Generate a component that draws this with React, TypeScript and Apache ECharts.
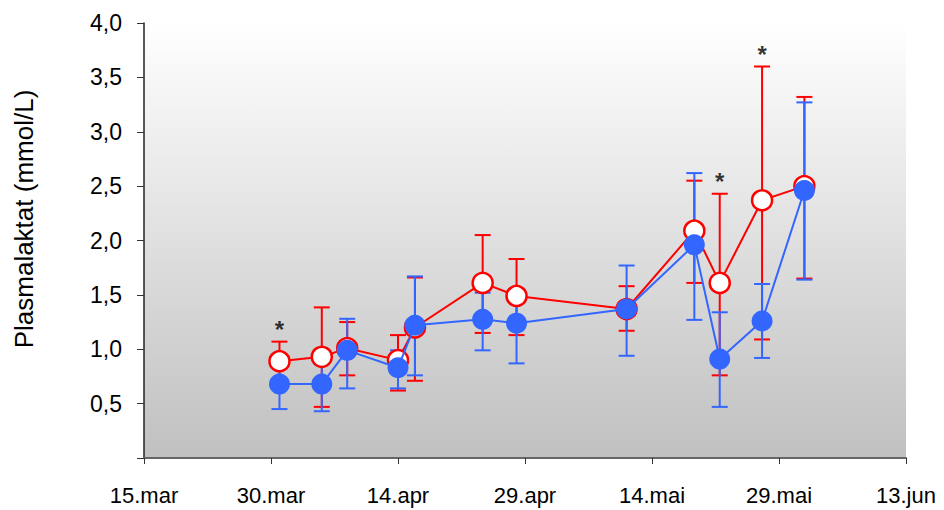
import React, { useEffect, useRef } from "react";
import * as echarts from "echarts";

const startDate = "2007-03-15";
const tickLabels = ["15.mar", "30.mar", "14.apr", "29.apr", "14.mai", "29.mai", "13.jun"];
const dates = [
  "2007-03-31", "2007-04-05", "2007-04-08", "2007-04-14", "2007-04-16", "2007-04-24",
  "2007-04-28", "2007-05-11", "2007-05-19", "2007-05-22", "2007-05-27", "2007-06-01",
];
const redMean = [0.89, 0.93, 1.01, 0.9, 1.2, 1.61, 1.49, 1.37, 2.09, 1.61, 2.37, 2.5];
const redUpper = [1.07, 1.385, 1.25, 1.13, 1.66, 2.05, 1.83, 1.58, 2.55, 2.43, 3.6, 3.32];
const redLower = [0.71, 0.47, 0.76, 0.62, 0.71, 1.15, 1.13, 1.17, 1.61, 0.76, 1.09, 1.65];
const blueMean = [0.68, 0.68, 0.99, 0.83, 1.22, 1.275, 1.24, 1.37, 1.96, 0.91, 1.26, 2.46];
const blueUpper = [0.91, 0.93, 1.28, 0.99, 1.67, 1.52, 1.55, 1.77, 2.62, 1.34, 1.6, 3.27];
const blueLower = [0.45, 0.43, 0.64, 0.64, 0.76, 0.99, 0.87, 0.94, 1.27, 0.47, 0.92, 1.64];
const significant = [true, false, false, false, false, false, false, false, false, true, true, false];

const RED = "#ff0000";
const BLUE = "#3366ff";

function dayOffset(d: string): number {
  return (Date.parse(d) - Date.parse(startDate)) / 86400000;
}

function errorSeries(color: string, lower: number[], upper: number[]) {
  const data = dates.map((d, i) => [dayOffset(d), lower[i], upper[i]]);
  return {
    type: "custom",
    data,
    silent: true,
    renderItem: (params: any, api: any) => {
      const x = api.value(0);
      const lo = api.coord([x, api.value(1)]);
      const hi = api.coord([x, api.value(2)]);
      const hw = 8;
      const style = { stroke: color, lineWidth: 2 };
      return {
        type: "group",
        children: [
          { type: "line", shape: { x1: lo[0], y1: lo[1], x2: hi[0], y2: hi[1] }, style },
          { type: "line", shape: { x1: lo[0] - hw, y1: lo[1], x2: lo[0] + hw, y2: lo[1] }, style },
          { type: "line", shape: { x1: hi[0] - hw, y1: hi[1], x2: hi[0] + hw, y2: hi[1] }, style },
        ],
      };
    },
  };
}

export default function App() {
  const ref = useRef<HTMLDivElement>(null);
  useEffect(() => {
    if (!ref.current) return;
    const chart = echarts.init(ref.current, null, { renderer: "svg" });
    const font = "Liberation Sans, Arial, sans-serif";
    chart.setOption({
      animation: false,
      backgroundColor: "#ffffff",
      grid: {
        left: 144,
        right: 38,
        top: 23,
        bottom: 52,
        show: true,
        borderWidth: 0,
        backgroundColor: new echarts.graphic.LinearGradient(0, 0, 0, 1, [
          { offset: 0, color: "#ffffff" },
          { offset: 1, color: "#c0c0c0" },
        ]),
      },
      graphic: [
        {
          type: "text",
          x: 24,
          y: 219,
          rotation: Math.PI / 2,
          style: {
            text: "Plasmalaktat (mmol/L)",
            fontFamily: font,
            fontSize: 26,
            fill: "#000",
            align: "center",
            verticalAlign: "middle",
          },
        },
      ],
      xAxis: {
        type: "value",
        min: 0,
        max: 90,
        interval: 15,
        splitLine: { show: false },
        axisLine: { lineStyle: { color: "#666", width: 2 } },
        axisTick: { show: true, inside: false, length: 6, lineStyle: { color: "#333", width: 1 } },
        axisLabel: {
          color: "#000",
          fontFamily: font,
          fontSize: 22,
          margin: 26,
          formatter: (v: number) => tickLabels[Math.round(v / 15)] ?? "",
        },
      },
      yAxis: {
        type: "value",
        min: 0,
        max: 4,
        interval: 0.5,
        splitLine: { show: false },
        axisLine: { show: true, lineStyle: { color: "#222", width: 1.5 } },
        axisTick: { show: true, inside: false, length: 7, lineStyle: { color: "#333", width: 1 } },
        axisLabel: {
          color: "#000",
          fontFamily: font,
          fontSize: 23,
          margin: 22,
          formatter: (v: number) => (v === 0 ? "" : v.toFixed(1).replace(".", ",")),
        },
      },
      series: [
        errorSeries(RED, redLower, redUpper),
        errorSeries(BLUE, blueLower, blueUpper),
        {
          type: "line",
          data: dates.map((d, i) => [dayOffset(d), redMean[i]]),
          symbol: "circle",
          symbolSize: 20,
          lineStyle: { color: RED, width: 2 },
          itemStyle: { color: "#ffffff", borderColor: RED, borderWidth: 2.5 },
          z: 3,
        },
        {
          type: "line",
          data: dates.map((d, i) => [dayOffset(d), blueMean[i]]),
          symbol: "circle",
          symbolSize: 21,
          lineStyle: { color: BLUE, width: 2 },
          itemStyle: { color: BLUE, borderWidth: 0 },
          z: 4,
        },
        {
          type: "scatter",
          data: dates
            .map((d, i) => (significant[i] ? [dayOffset(d), redUpper[i]] : null))
            .filter((p) => p !== null),
          symbolSize: 1,
          itemStyle: { color: "transparent" },
          label: {
            show: true,
            position: "top",
            distance: 0,
            formatter: "*",
            color: "#000",
            fontFamily: font,
            fontWeight: "bold",
            fontSize: 24,
          },
          z: 5,
        },
      ],
    });
    return () => chart.dispose();
  }, []);
  return (
    <div
      ref={ref}
      style={{ position: "fixed", left: 0, top: 0, width: 944, height: 510 }}
    />
  );
}
